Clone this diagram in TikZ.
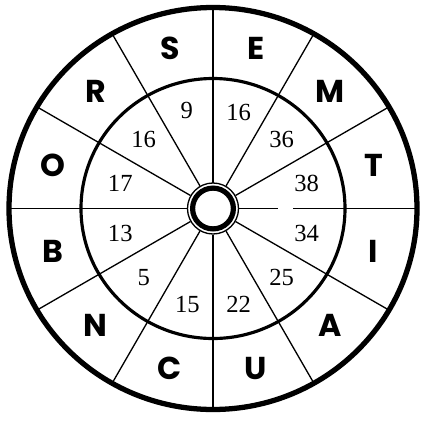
\documentclass[tikz,border=0pt]{standalone}
\usepackage{fontspec}
\setmainfont{Liberation Serif}
\newfontfamily\wheelfont{Poppins}
\usetikzlibrary{positioning}
\tikzset{
  rim/.style={line width=3pt},
  ring/.style={line width=1.8pt},
  spoke/.style={line width=0.75pt},
  letter/.style={font=\wheelfont\bfseries\fontsize{18}{18}\selectfont, inner sep=0pt},
  num/.style={font=\fontsize{14}{14}\selectfont, inner sep=0pt},
}

\begin{document}
\begin{tikzpicture}[x=0.02cm, y=0.02cm]
  \useasboundingbox (-213,-211.5) rectangle (213,208.5);
  % wheel
  \draw[rim] (0,0) ellipse [x radius=204, y radius=201];
  \draw[ring] (0,0) ellipse [x radius=132, y radius=130];
  % hub
  \draw[line width=0.75pt] (0,0) circle [radius=25.5];
  \draw[line width=2.95pt] (0,0) circle [radius=20.4];
  % spokes
  \draw[spoke] (0:26) -- (0:65); \draw[spoke] (0:80) -- (0:203);
  \draw[spoke] (30:26) -- (30:203); \draw[spoke] (60:26) -- (60:202);
  \draw[spoke] (90:26) -- (90:201); \draw[spoke] (120:26) -- (120:202);
  \draw[spoke] (150:26) -- (150:203); \draw[spoke] (180:26) -- (180:204);
  \draw[spoke] (210:26) -- (210:203); \draw[spoke] (240:26) -- (240:202);
  \draw[spoke] (270:26) -- (270:201); \draw[spoke] (300:26) -- (300:202);
  \draw[spoke] (330:26) -- (330:203);
  % outer letters
  \node[letter] (lT) at (15:166) {T};
  \node[letter] (lM) at (45:166) {M};
  \node[letter] (lE) at (75:166) {E};
  \node[letter] (lS) at (105:166) {S};
  \node[letter] (lR) at (135:166) {R};
  \node[letter] (lO) at (165:166) {O};
  \node[letter] (lB) at (195:166) {B};
  \node[letter] (lN) at (225:166) {N};
  \node[letter] (lC) at (255:166) {C};
  \node[letter] (lU) at (285:166) {U};
  \node[letter] (lA) at (315:166) {A};
  \node[letter] (lI) at (345:166) {I};
  % inner numbers
  \node[num] (n38) at (15:97) {38};
  \node[num] (n36) at (45:97) {36};
  \node[num] (n16r) at (75:99) {16};
  \node[num] (n9) at (105:101) {9};
  \node[num] (n16l) at (135:98) {16};
  \node[num] (n17) at (165:96) {17};
  \node[num] (n13) at (195:96) {13};
  \node[num] (n5) at (225:98) {5};
  \node[num] (n15) at (255:99) {15};
  \node[num] (n22) at (285:99) {22};
  \node[num] (n25) at (315:97) {25};
  \node[num] (n34) at (345:97) {34};
\end{tikzpicture}
\end{document}
